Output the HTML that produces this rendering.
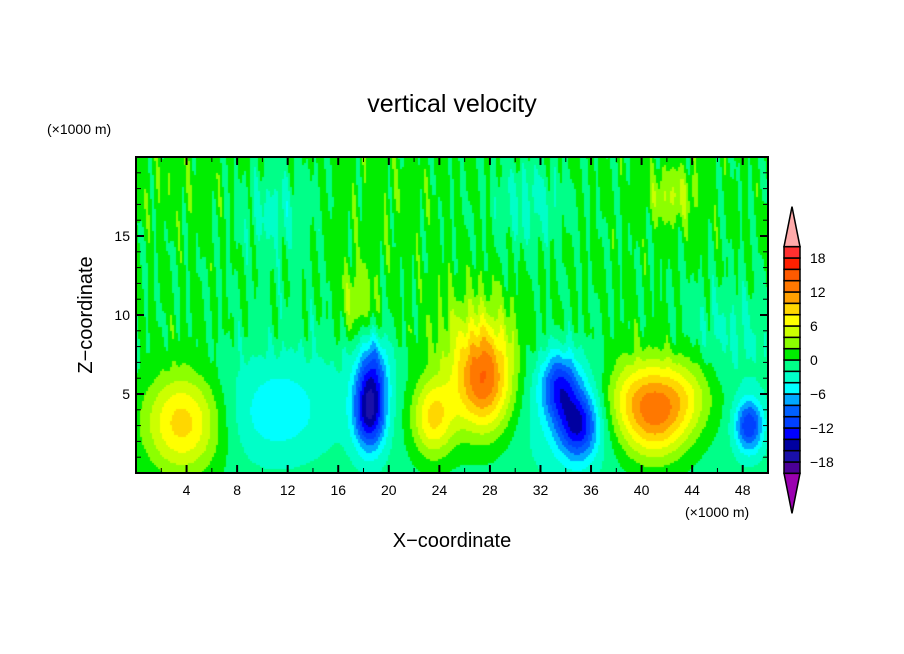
<!DOCTYPE html>
<html><head><meta charset="utf-8"><style>
body{margin:0;background:#fff;width:904px;height:654px;overflow:hidden;font-family:"Liberation Sans",sans-serif;position:relative}
#cv{position:absolute;left:136px;top:157px;display:block}
#svg{position:absolute;left:0;top:0}
</style></head><body>
<canvas id="cv" width="632" height="316"></canvas>
<svg id="svg" width="904" height="654" xmlns="http://www.w3.org/2000/svg">
<rect x="136" y="157" width="632" height="316" fill="none" stroke="#000" stroke-width="2"/>
<g id="ticks"></g>
<text x="452" y="112" font-size="25" text-anchor="middle">vertical velocity</text>
<text x="47" y="134" font-size="14">(×1000 m)</text>
<text x="685" y="517" font-size="14">(×1000 m)</text>
<text x="452" y="547" font-size="20" text-anchor="middle">X−coordinate</text>
<text transform="translate(92,315) rotate(-90)" font-size="20" text-anchor="middle">Z−coordinate</text>
<g id="cbar"></g>
</svg>
<script>
const levels=[-20,-18,-16,-14,-12,-10,-8,-6,-4,-2,0,2,4,6,8,10,12,14,16,18,20];
const colors=["#4b0096","#1a10a8","#0000a0","#0000ff","#0040ff","#0060ff","#00a8ff","#00ffff","#00ffc8","#00ff88","#00ee00","#8cff00","#ccff00","#ffff00","#ffd700","#ffa000","#ff7800","#ff5a00","#ff2000","#ff3030"];
const underColor="#9a00b0", overColor="#ffaaaa";
const cbarLabels=[-18,-12,-6,0,6,12,18];
const xTicks=[4,8,12,16,20,24,28,32,36,40,44,48];
const zTicks=[5,10,15];
// blobs: centre x (km), centre z (km), amplitude (m/s), sigma x, sigma z
const blobX=[3.7,23.5,27.5,26.5,39.5,43,41,17.5,42.5,18.5,18.8,33.5,35,34,48.5,11,12,11,31,47,3,20];
const blobZ=[3.2,3.5,5.8,8,5,5,3,11,17.5,4,7,5.5,3,4,3,3.5,7,16.5,17,9,18,17];
const blobA=[10,9,13,3,7,7,8,4,4,-15,-6,-9,-11,-3,-11,-3.5,-1.5,-3,-3,-2.5,1,1];
const blobSX=[2.2,1.2,1.6,2.5,1.9,1.9,1.9,1,1.5,0.9,0.9,1,1.1,2.5,0.8,3,4,2,2,3,3,3];
const blobSZ=[2.3,1.8,2.3,3,1.8,1.8,1.8,1.5,1.3,1.8,1.5,1.5,1.5,3,1.2,2,3,2,2,2,2,2.5];
// background texture wave components (amplitude, kx, kz, phase)
const waveA=[0.8,0.6,0.5];
const waveKX=[5.3,7.7,3.1];
const waveKZ=[0.6,0.3,0.9];
const waveP=[0.3,1.7,2.9];
const X0=136,X1=768,Y0=157,Y1=473,XMAX=50,ZMAX=20;
const sx=x=>X0+(x/XMAX)*(X1-X0), sz=z=>Y1-(z/ZMAX)*(Y1-Y0);
function field(x,z){
  let v=z<6?-1:-1+1.3*Math.min(1,(z-6)/3);
  for(let i=0;i<blobX.length;i++){
    const dx=(x-blobX[i])/blobSX[i],dz=(z-blobZ[i])/blobSZ[i];
    v+=blobA[i]*Math.exp(-0.5*(dx*dx+dz*dz));
  }
  const w=Math.min(1,Math.max(0,(z-6)/3));
  for(let i=0;i<waveA.length;i++) v+=w*waveA[i]*Math.sin(waveKX[i]*x+waveKZ[i]*z+waveP[i]);
  return v;
}
function colorFor(v){
  if(v<levels[0])return underColor;
  if(v>=levels[levels.length-1])return overColor;
  for(let i=0;i<colors.length;i++) if(v<levels[i+1])return colors[i];
  return overColor;
}
const cv=document.getElementById('cv'),ctx=cv.getContext('2d');
const step=2;
for(let py=0;py<316;py+=step){for(let px=0;px<632;px+=step){
  const x=(px+1)/632*XMAX,z=(316-py-1)/316*ZMAX;
  ctx.fillStyle=colorFor(field(x,z));ctx.fillRect(px,py,step,step);}}
const NS="http://www.w3.org/2000/svg";
const tg=document.getElementById('ticks');
function ln(x1,y1,x2,y2,w){const l=document.createElementNS(NS,'line');l.setAttribute('x1',x1);l.setAttribute('y1',y1);l.setAttribute('x2',x2);l.setAttribute('y2',y2);l.setAttribute('stroke','#000');l.setAttribute('stroke-width',w);


tg.appendChild(l);}
function tx(g,x,y,s,anchor,name){const t=document.createElementNS(NS,'text');t.setAttribute('x',x);t.setAttribute('y',y);t.setAttribute('font-size','14');t.setAttribute('text-anchor',anchor);t.textContent=s;


g.appendChild(t);}
for(let x=2;x<XMAX;x+=2){const m=xTicks.includes(x);const L=m?8:5;ln(sx(x),Y1,sx(x),Y1-L,m?2:1);ln(sx(x),Y0,sx(x),Y0+L,m?2:1);}
for(let z=1;z<ZMAX;z++){const m=zTicks.includes(z);const L=m?8:5;ln(X0,sz(z),X0+L,sz(z),m?2:1);ln(X1,sz(z),X1-L,sz(z),m?2:1);}
xTicks.forEach(x=>tx(tg,sx(x),Y1+22,String(x),'middle','x-tick-label'));
zTicks.forEach(z=>tx(tg,X0-6,sz(z)+5,String(z),'end','y-tick-label'));
const cb=document.getElementById('cbar');
const CX=784,CW=16,cy=L=>258+(18-L)*(102/18);
colors.forEach((c,i)=>{const r=document.createElementNS(NS,'rect');r.setAttribute('x',CX);r.setAttribute('y',cy(levels[i+1]));r.setAttribute('width',CW);r.setAttribute('height',cy(levels[i])-cy(levels[i+1]));r.setAttribute('fill',c);r.setAttribute('stroke','#000');r.setAttribute('stroke-width','1.5');


cb.appendChild(r);});
function tri(pts,fill,name){const p=document.createElementNS(NS,'polygon');p.setAttribute('points',pts);p.setAttribute('fill',fill);p.setAttribute('stroke','#000');p.setAttribute('stroke-width','1.5');


cb.appendChild(p);}
const cbTop=cy(levels[levels.length-1]),cbBot=cy(levels[0]);
tri(`${CX},${cbTop} ${CX+CW},${cbTop} ${CX+CW/2},${cbTop-40}`,overColor,'colorbar-over-triangle');
tri(`${CX},${cbBot} ${CX+CW},${cbBot} ${CX+CW/2},${cbBot+40}`,underColor,'colorbar-under-triangle');
cbarLabels.forEach(L=>tx(cb,CX+CW+10,cy(L)+5,String(L).replace('-','−'),'start','colorbar-label'));
</script>
</body></html>
